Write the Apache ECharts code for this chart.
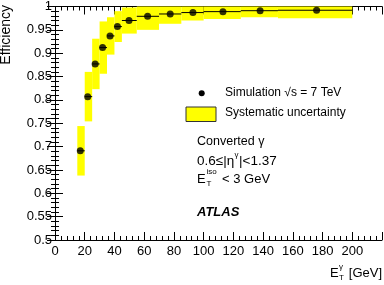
<!DOCTYPE html>
<html><head><meta charset="utf-8">
<script src="https://cdn.jsdelivr.net/npm/echarts@6/dist/echarts.min.js"></script>
<style>html,body{margin:0;padding:0;background:#fff}#c{width:384px;height:285px}</style>
</head><body><div id="c"></div>
<script>
// bin edges (GeV), point positions, efficiencies and systematic uncertainties
const binLow  = [15, 20, 25, 30, 35, 40, 45, 55, 70, 85, 100, 125, 150];
const binHigh = [20, 25, 30, 35, 40, 45, 55, 70, 85, 100, 125, 150, 200];
const pointX  = [17, 22, 27, 32, 37, 42, 49.8, 62.3, 77.5, 92.8, 113, 138, 176];
const eff     = [0.691, 0.807, 0.877, 0.912, 0.937, 0.957, 0.970, 0.979, 0.984, 0.987, 0.989, 0.991, 0.992];
const sysErr  = [0.053, 0.053, 0.054, 0.056, 0.040, 0.033, 0.028, 0.029, 0.021, 0.017, 0.016, 0.014, 0.017];
const xTicks = [0, 20, 40, 60, 80, 100, 120, 140, 160, 180, 200];
const yTicks = [0.5, 0.55, 0.6, 0.65, 0.7, 0.75, 0.8, 0.85, 0.9, 0.95, 1];

const FONT = 'Liberation Sans';
const chart = echarts.init(document.getElementById('c'), null, {renderer: 'canvas'});

const boxData = binLow.map((lo, i) => [lo, binHigh[i], eff[i] - sysErr[i], eff[i] + sysErr[i]]);
const barData = binLow.map((lo, i) => [lo, binHigh[i], eff[i]]);
const ptData = pointX.map((x, i) => [x, eff[i]]);

function axisCommon(show) {
  return {
    axisLine: {show: true, lineStyle: {color: '#000', width: 1}},
    axisTick: {show: true, inside: true, length: 8, lineStyle: {color: '#000', width: 1}},
    minorTick: {show: true, splitNumber: 5, length: 4, lineStyle: {color: '#000', width: 1}},
    splitLine: {show: false},
    axisLabel: {show: show, color: '#000', fontFamily: FONT, fontSize: 13}
  };
}

const option = {
  animation: false,
  grid: {left: 55, right: 2, top: 5, bottom: 45},
  xAxis: [
    Object.assign({type: 'value', min: 0, max: 220, interval: 20, position: 'bottom'}, axisCommon(true),
      {axisLabel: {show: true, color: '#000', fontFamily: FONT, fontSize: 13, margin: 5, showMaxLabel: false,
        formatter: v => xTicks.includes(v) ? String(v) : ''}}),
    Object.assign({type: 'value', min: 0, max: 220, interval: 20, position: 'top'}, axisCommon(false))
  ],
  yAxis: [
    Object.assign({type: 'value', min: 0.5, max: 1, interval: 0.05, position: 'left'}, axisCommon(true),
      {axisLabel: {show: true, color: '#000', fontFamily: FONT, fontSize: 13, margin: 3,
        formatter: v => { const r = Math.round(v * 100) / 100; return yTicks.some(t => Math.abs(t - r) < 1e-9) ? String(r) : ''; }}}),
    Object.assign({type: 'value', min: 0.5, max: 1, interval: 0.05, position: 'right'}, axisCommon(false))
  ],
  series: [
    {
      type: 'custom', name: 'Systematic uncertainty', data: boxData, z: 1,
      renderItem: (params, api) => {
        const p0 = api.coord([api.value(0), api.value(3)]);
        const p1 = api.coord([api.value(1), api.value(2)]);
        const shape = echarts.graphic.clipRectByRect(
          {x: p0[0], y: p0[1], width: p1[0] - p0[0], height: p1[1] - p0[1]},
          {x: params.coordSys.x, y: params.coordSys.y, width: params.coordSys.width, height: params.coordSys.height});
        return shape && {type: 'rect', shape: shape, style: {fill: '#ffff00'}};
      }
    },
    {
      type: 'custom', name: 'bin width', data: barData, z: 2,
      renderItem: (params, api) => {
        const a = api.coord([api.value(0), api.value(2)]);
        const b = api.coord([api.value(1), api.value(2)]);
        return {type: 'line', shape: {x1: a[0], y1: a[1], x2: b[0], y2: b[1]}, style: {stroke: '#000', lineWidth: 1}};
      }
    },
    {
      type: 'scatter', name: 'Simulation', data: ptData, symbol: 'circle', symbolSize: 7, z: 3,
      itemStyle: {color: '#000'}
    }
  ],
  graphic: [
    {type: 'text', x: 6, y: 5, rotation: Math.PI / 2,
      style: {text: 'Efficiency', font: '14px ' + FONT, fill: '#000', textAlign: 'right', textVerticalAlign: 'middle'}},
    {type: 'text', x: 382, y: 273,
      style: {text: '[GeV]', font: '13px ' + FONT, fill: '#000', textAlign: 'right', textVerticalAlign: 'middle'}},
    {type: 'text', x: 339, y: 267,
      style: {text: 'γ', font: '8px ' + FONT, fill: '#000', textAlign: 'left', textVerticalAlign: 'middle'}},
    {type: 'text', x: 339, y: 278,
      style: {text: 'T', font: '8px ' + FONT, fill: '#000', textAlign: 'left', textVerticalAlign: 'middle'}},
    {type: 'text', x: 330, y: 273,
      style: {text: 'E', font: '13px ' + FONT, fill: '#000', textAlign: 'left', textVerticalAlign: 'middle'}},

    {type: 'circle', shape: {cx: 201.7, cy: 93.3, r: 3}, style: {fill: '#000'}},
    {type: 'text', x: 225, y: 93,
      style: {text: 'Simulation √s = 7 TeV', font: '12px ' + FONT, fill: '#000', textAlign: 'left', textVerticalAlign: 'middle'}},
    {type: 'rect', shape: {x: 186, y: 107, width: 30, height: 14.5}, style: {fill: '#ffff00', stroke: '#333', lineWidth: 1}},
    {type: 'text', x: 225, y: 113,
      style: {text: 'Systematic uncertainty', font: '12px ' + FONT, fill: '#000', textAlign: 'left', textVerticalAlign: 'middle'}},

    {type: 'text', x: 197, y: 142,
      style: {text: 'Converted γ', font: '12.5px ' + FONT, fill: '#000', textAlign: 'left', textVerticalAlign: 'middle'}},
    {type: 'text', x: 197, y: 161,
      style: {text: '0.6≤|η', font: '13.5px ' + FONT, fill: '#000', textAlign: 'left', textVerticalAlign: 'middle'}},
    {type: 'text', x: 234.5, y: 155,
      style: {text: 'γ', font: '8px ' + FONT, fill: '#000', textAlign: 'left', textVerticalAlign: 'middle'}},
    {type: 'text', x: 239, y: 161,
      style: {text: '|<1.37', font: '13.5px ' + FONT, fill: '#000', textAlign: 'left', textVerticalAlign: 'middle'}},
    {type: 'text', x: 197, y: 179,
      style: {text: 'E', font: '13px ' + FONT, fill: '#000', textAlign: 'left', textVerticalAlign: 'middle'}},
    {type: 'text', x: 206.5, y: 172,
      style: {text: 'iso', font: '8px ' + FONT, fill: '#000', textAlign: 'left', textVerticalAlign: 'middle'}},
    {type: 'text', x: 206.5, y: 184,
      style: {text: 'T', font: '8px ' + FONT, fill: '#000', textAlign: 'left', textVerticalAlign: 'middle'}},
    {type: 'text', x: 222, y: 179,
      style: {text: '< 3 GeV', font: '13px ' + FONT, fill: '#000', textAlign: 'left', textVerticalAlign: 'middle'}},
    {type: 'text', x: 197, y: 212,
      style: {text: 'ATLAS', font: 'italic bold 13px ' + FONT, fill: '#000', textAlign: 'left', textVerticalAlign: 'middle'}}
  ]
};
chart.setOption(option);
</script>
</body></html>
